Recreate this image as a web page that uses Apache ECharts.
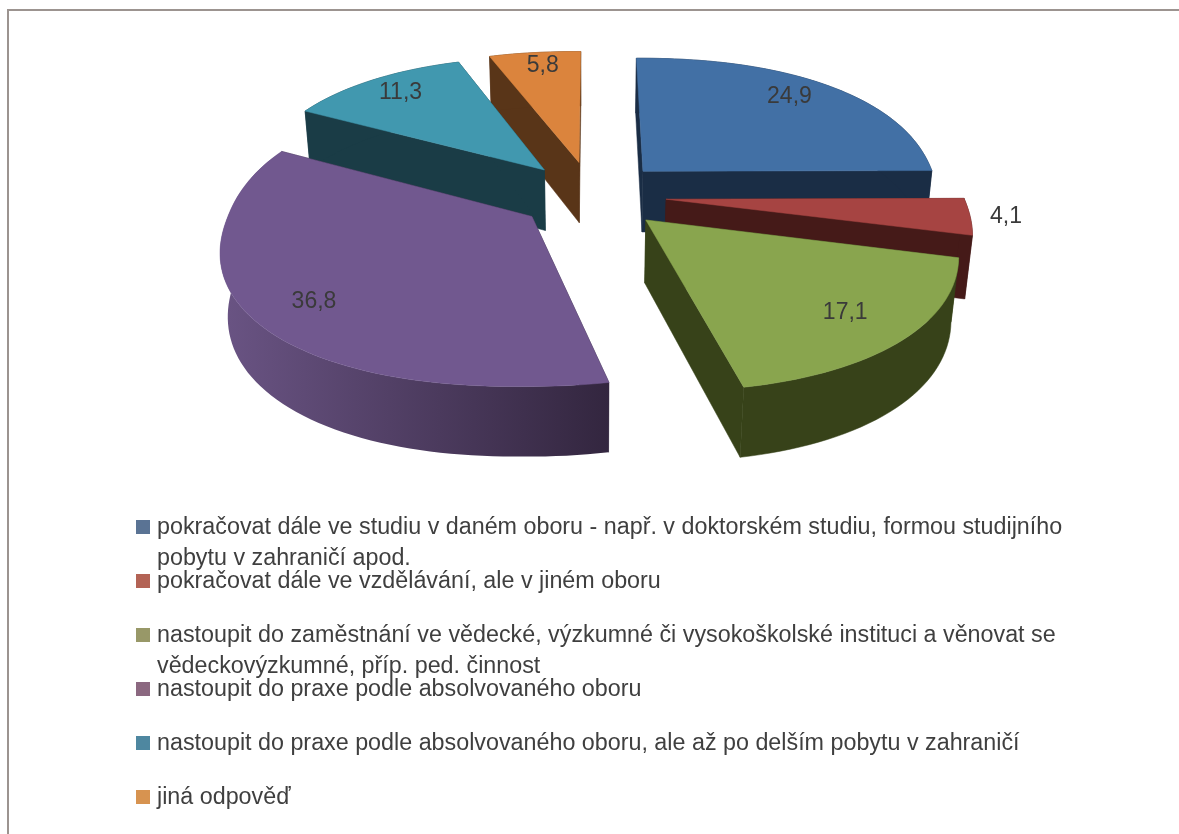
<!DOCTYPE html>
<html>
<head>
<meta charset="utf-8">
<style>
html,body{margin:0;padding:0;background:#fff}
#main{width:1179px;height:834px}
</style>
<script src="https://cdn.jsdelivr.net/npm/echarts@6/dist/echarts.min.js"></script>
</head>
<body>
<div id="main"></div>
<script>
const categories = [
  'pokračovat dále ve studiu v daném oboru - např. v doktorském studiu, formou studijního\npobytu v zahraničí apod.',
  'pokračovat dále ve vzdělávání, ale v jiném oboru',
  'nastoupit do zaměstnání ve vědecké, výzkumné či vysokoškolské instituci a věnovat se\nvědeckovýzkumné, příp. ped. činnost',
  'nastoupit do praxe podle absolvovaného oboru',
  'nastoupit do praxe podle absolvovaného oboru, ale až po delším pobytu v zahraničí',
  'jiná odpověď'
]
const values = [24.9, 4.1, 17.1, 36.8, 11.3, 5.8]
const valueLabels = ['24,9', '4,1', '17,1', '36,8', '11,3', '5,8']
const topColors = ['#4270a5', '#a64442', '#89a54e', '#71588f', '#4198af', '#db843d']
const wallColors = ['#1a2d45', '#451a18', '#374219', '#33263f', '#1a3c46', '#593518']
const legendColors = ['#5a7394', '#b36355', '#989868', '#8b6880', '#4e87a0', '#d79350']
// kde sedi popisek: podil uhlu vysece, podil polomeru
const labelPlace = [[0.47, 0.85], [0.46, 1.12], [0.5, 0.82], [0.48, 0.84], [0.51, 0.86], [0.53, 0.87]]
// poradi kresleni, zezadu dopredu
const drawOrder = [0, 1, 2, 5, 4, 3]

// 3D pohled na kolac
const cx = 592, cy = 195, radX = 297, radY = 137
const persp = 0.152, explode = 0.25, depth = 63, lowShrink = 0.02
const rimPower = 2.2  // okraj v excelu neni cista elipsa, v uhlopricce je plnejsi

const startAngles = []
values.reduce((sum, v, i) => {
  startAngles[i] = sum / 100 * Math.PI * 2
  return sum + v
}, 0)

function rim(theta) {
  const s = Math.abs(Math.sin(theta)), c = Math.abs(Math.cos(theta))
  return Math.pow(Math.pow(s, rimPower) + Math.pow(c, rimPower), -1 / rimPower)
}

function project(theta, r, mid, low) {
  const u = explode * Math.sin(mid) + r * Math.sin(theta)
  const v = -explode * Math.cos(mid) - r * Math.cos(theta)
  const w = 1 - persp * v
  if (low) {
    return [cx + radX * u / (w + lowShrink), cy + (radY * v + depth) / (w + lowShrink)]
  }
  return [cx + radX * u / w, cy + radY * v / w]
}

function poly(points, fill) {
  return {
    type: 'polygon',
    shape: { points: points },
    style: { fill: fill, stroke: typeof fill === 'string' ? fill : null, lineWidth: 0.5 }
  }
}

function renderSlice(params, api) {
  const i = api.value(0)
  const a0 = startAngles[i]
  const a1 = a0 + values[i] / 100 * Math.PI * 2
  const mid = (a0 + a1) / 2
  const n = Math.max(4, Math.round((a1 - a0) / 0.03))
  const topArc = [], lowArc = []
  for (let k = 0; k <= n; k++) {
    const t = a0 + (a1 - a0) * k / n
    topArc.push(project(t, rim(t), mid, false))
    lowArc.push(project(t, rim(t), mid, true))
  }
  const apexTop = project(0, 0, mid, false)
  const apexLow = project(0, 0, mid, true)
  // fialova ma na oblouku prechod, ostatni jsou jednolite
  const arcFill = i === 3
    ? { type: 'linear', x: 0, y: 0, x2: 1, y2: 0, colorStops: [{ offset: 0, color: '#6a5484' }, { offset: 1, color: '#33263f' }] }
    : wallColors[i]
  const lab = project(a0 + (a1 - a0) * labelPlace[i][0], labelPlace[i][1], mid, false)
  return {
    type: 'group',
    children: [
      poly([apexTop, topArc[0], lowArc[0], apexLow], wallColors[i]),
      poly([apexTop, topArc[n], lowArc[n], apexLow], wallColors[i]),
      poly(topArc.concat(lowArc.slice().reverse()), arcFill),
      poly([apexTop].concat(topArc), topColors[i]),
      {
        type: 'text',
        style: {
          x: lab[0], y: lab[1], text: valueLabels[i], fill: '#3a3a3a',
          font: '23px "Liberation Sans"', align: 'center', verticalAlign: 'middle'
        }
      }
    ]
  }
}

// legenda: radky po 54 px, dvouradkove polozky zasahuji do dalsiho radku
const legendItems = []
categories.forEach((name, i) => {
  const y = 527 + 54 * i
  legendItems.push({ type: 'rect', shape: { x: 136, y: y - 7, width: 14, height: 14 }, style: { fill: legendColors[i] } })
  name.split('\n').forEach((line, k) => {
    legendItems.push({
      type: 'text',
      style: {
        x: 157, y: y + 1 + 31 * k, text: line, fill: '#3f3f3f',
        font: '23.3px "Liberation Sans"', verticalAlign: 'middle'
      }
    })
  })
})

const lineStyle = { stroke: '#9c9490', lineWidth: 2 }
const myChart = echarts.init(document.getElementById('main'), null, { renderer: 'canvas' })
myChart.setOption({
  animation: false,
  backgroundColor: '#fff',
  graphic: [
    { type: 'line', shape: { x1: 7, y1: 10, x2: 1179, y2: 10 }, style: lineStyle },
    { type: 'line', shape: { x1: 8, y1: 9, x2: 8, y2: 834 }, style: lineStyle },
    { type: 'group', children: legendItems }
  ],
  series: [{
    type: 'custom',
    coordinateSystem: 'none',
    renderItem: renderSlice,
    data: drawOrder.map(i => [i, values[i]])
  }]
})
</script>
</body>
</html>
